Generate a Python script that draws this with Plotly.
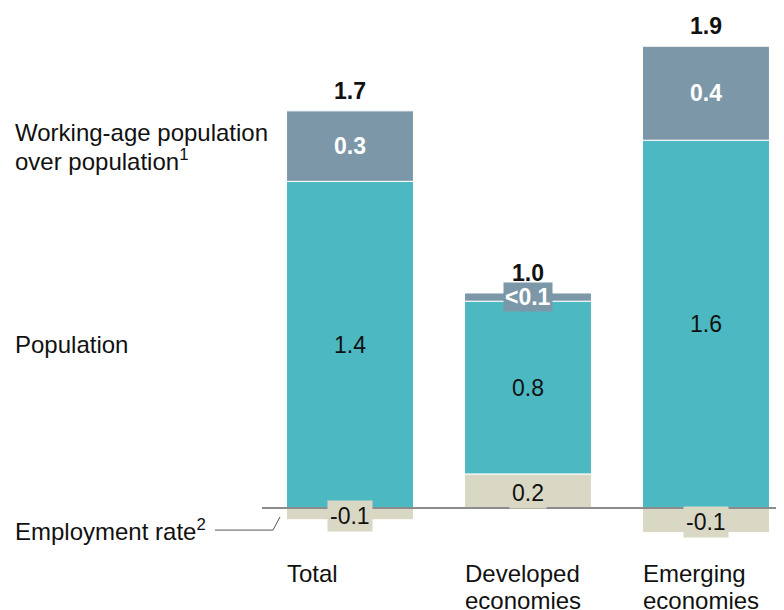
import plotly.graph_objects as go

categories = ["Total", "Developed\neconomies", "Emerging\neconomies"]
employment = [-0.05, 0.145, -0.105]
population = [1.39, 0.735, 1.565]
working_age = [0.30, 0.035, 0.40]

employment_labels = ["-0.1", "0.2", "-0.1"]
population_labels = ["1.4", "0.8", "1.6"]
working_age_labels = ["0.3", "<0.1", "0.4"]
total_labels = ["1.7", "1.0", "1.9"]

series_names = ["Employment rate<sup>2</sup>", "Population",
                "Working-age population\nover population<sup>1</sup>"]

C_EMP = "#D9D8C5"
C_POP = "#4CB8C2"
C_WAP = "#7C98A8"
FONT = "Liberation Sans, Arial, sans-serif"
FS = 23
FS_LEFT = 24
BAR_W = 0.713

W, H = 776, 602          # page body has an 8px margin
OFF = 8


def px(xref_px):
    return (xref_px - OFF) / W


x = list(range(len(categories)))

fig = go.Figure()
for vals, col, name in [(employment, C_EMP, "emp"), (population, C_POP, "pop"), (working_age, C_WAP, "wap")]:
    fig.add_trace(go.Bar(x=x, y=vals, marker=dict(color=col, line=dict(color="white", width=1)),
                         width=BAR_W, name=name, showlegend=False, hoverinfo="skip"))

ann = []


def add_lines(text, centered=True, **kw):
    lines = text.split("\n")
    n = len(lines)
    for k, line in enumerate(lines):
        a = dict(kw)
        a["text"] = line
        a["yshift"] = -27 * k + (27 * (n - 1) / 2 if centered else 0)
        ann.append(a)


for i in x:
    e, p, w = employment[i], population[i], working_age[i]
    pos_base = max(e, 0)
    ann.append(dict(x=i, y=e / 2, xref="x", yref="y", text=employment_labels[i], showarrow=False,
                    yshift=-2, font=dict(family=FONT, size=FS, color="#111"), bgcolor=C_EMP, borderpad=2))
    ann.append(dict(x=i, y=pos_base + p / 2, xref="x", yref="y", text=population_labels[i],
                    showarrow=False, font=dict(family=FONT, size=FS, color="#111")))
    ann.append(dict(x=i, y=pos_base + p + w / 2, xref="x", yref="y",
                    text="<b>" + working_age_labels[i] + "</b>", showarrow=False,
                    font=dict(family=FONT, size=FS, color="white"), bgcolor=C_WAP, borderpad=1))
    ann.append(dict(x=i, y=pos_base + p + w, xref="x", yref="y", text="<b>" + total_labels[i] + "</b>",
                    showarrow=False, yanchor="bottom", yshift=5,
                    font=dict(family=FONT, size=FS, color="#111")))
    add_lines(categories[i], centered=False, x=i - BAR_W / 2, y=-0.277, xref="x", yref="y",
              xanchor="left", yanchor="middle", xshift=-2, showarrow=False,
              font=dict(family=FONT, size=FS_LEFT, color="#111"))

left_y = [-0.094, max(employment[0], 0) + population[0] / 2,
          max(employment[0], 0) + population[0] + working_age[0] / 2]
for lbl, yy in zip(series_names, left_y):
    add_lines(lbl, x=px(13), y=yy, xref="paper", yref="y", xanchor="left", yanchor="middle",
              showarrow=False, font=dict(family=FONT, size=FS_LEFT, color="#111"))

shapes = [
    dict(type="line", xref="paper", yref="y", x0=px(262), x1=1, y0=0, y1=0,
         line=dict(color="#8C8C8C", width=2), layer="above"),
    dict(type="line", xref="paper", yref="y", x0=px(215), x1=px(273), y0=-0.094, y1=-0.094,
         line=dict(color="#555", width=1)),
    dict(type="line", xref="paper", yref="y", x0=px(273), x1=px(280), y0=-0.094, y1=-0.038,
         line=dict(color="#555", width=1)),
]

fig.update_layout(
    width=W, height=H, margin=dict(l=0, r=0, t=0, b=0),
    plot_bgcolor="white", paper_bgcolor="white",
    barmode="relative", annotations=ann, shapes=shapes,
    xaxis=dict(range=[(OFF - 350) / 178, (784 - 350) / 178], visible=False, fixedrange=True),
    yaxis=dict(range=[-(610 - 508) / 235, (508 - OFF) / 235], visible=False, fixedrange=True),
)
fig.write_html("out.html")
